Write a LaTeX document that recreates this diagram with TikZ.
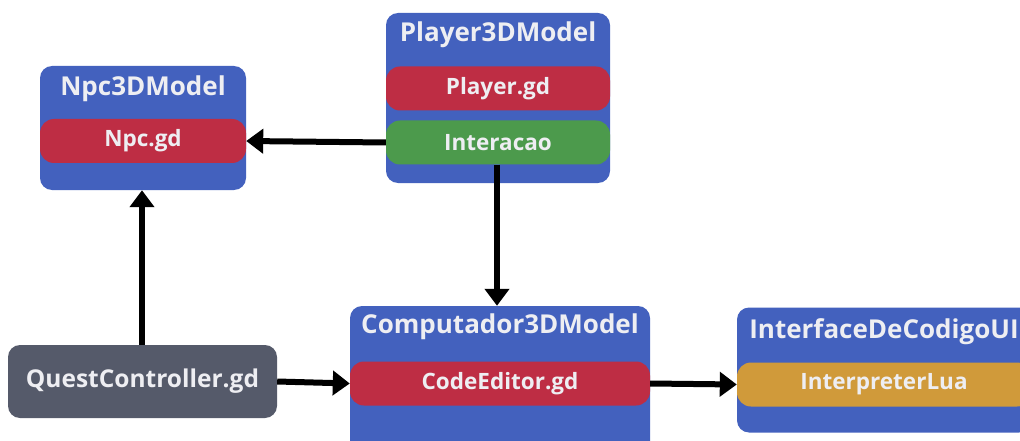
\documentclass[tikz,border=0pt]{standalone}
\usepackage{fontspec}
\setmainfont{Open Sans}
\usetikzlibrary{arrows.meta}
\definecolor{boxblue}{HTML}{4361BE}
\definecolor{scriptred}{HTML}{BE2D44}
\definecolor{scriptgreen}{HTML}{4C9A4C}
\definecolor{scriptgray}{HTML}{555A6A}
\definecolor{scriptgold}{HTML}{D09A3A}
\definecolor{labelwhite}{HTML}{EEEEF2}

\begin{document}
\begin{tikzpicture}
    [
    x=1pt, y=-1pt,
    model/.style={rectangle,rounded corners=12pt,fill=boxblue,inner sep=0pt},
    title/.style={text=labelwhite,font=\bfseries\fontsize{26}{30}\selectfont},
    script/.style={rectangle,rounded corners=14pt,inner sep=0pt,minimum height=44pt,
        text=labelwhite,font=\bfseries\fontsize{22.5}{26}\selectfont},
    edge/.style={-{Triangle[length=17pt,width=24pt]},line width=6pt,black}
    ]
\useasboundingbox (0,0) rectangle (1020,441);
% boxes
\node[model,minimum width=206pt,minimum height=124pt] (npc) at (143,128) {};
\node[model,minimum width=224pt,minimum height=170pt] (player) at (498,98) {};
\node[model,minimum width=300pt,minimum height=154pt] (comp) at (500,383) {};
\node[model,minimum width=294pt,minimum height=125pt] (iface) at (884,370) {};
\node[script,fill=scriptgray,rounded corners=12pt,minimum width=269pt,minimum height=73pt,
    font=\bfseries\fontsize{24.5}{28}\selectfont] (quest) at (142.5,381.5) {QuestController.gd};
% titles
\node[title] (npctitle) at (143,89) {Npc3DModel};
\node[title] (playertitle) at (498,35) {Player3DModel};
\node[title] (comptitle) at (500,327) {Computador3DModel};
\node[title] (ifacetitle) at (884,332) {InterfaceDeCodigoUI};
% scripts
\node[script,fill=scriptred,minimum width=206pt] (npcgd) at (143,141) {Npc.gd};
\node[script,fill=scriptred,minimum width=224pt] (playergd) at (498,88.5) {Player.gd};
\node[script,fill=scriptgreen,minimum width=224pt] (interacao) at (498,142.5) {Interacao};
\node[script,fill=scriptred,minimum width=300pt] (codeeditor) at (500,383.5) {CodeEditor.gd};
\node[script,fill=scriptgold,minimum width=294pt] (interpreter) at (884,384.5) {InterpreterLua};
% arrows
\draw[edge] (interacao.west) -- (npcgd.east);
\draw[edge] (interacao.south -| 497,0) -- (comp.north -| 497,0);
\draw[edge] (quest.north -| 142,0) -- (npc.south -| 142,0);
\draw[edge] (quest.east) -- (codeeditor.west);
\draw[edge] (codeeditor.east) -- (interpreter.west);
\end{tikzpicture}
\end{document}
